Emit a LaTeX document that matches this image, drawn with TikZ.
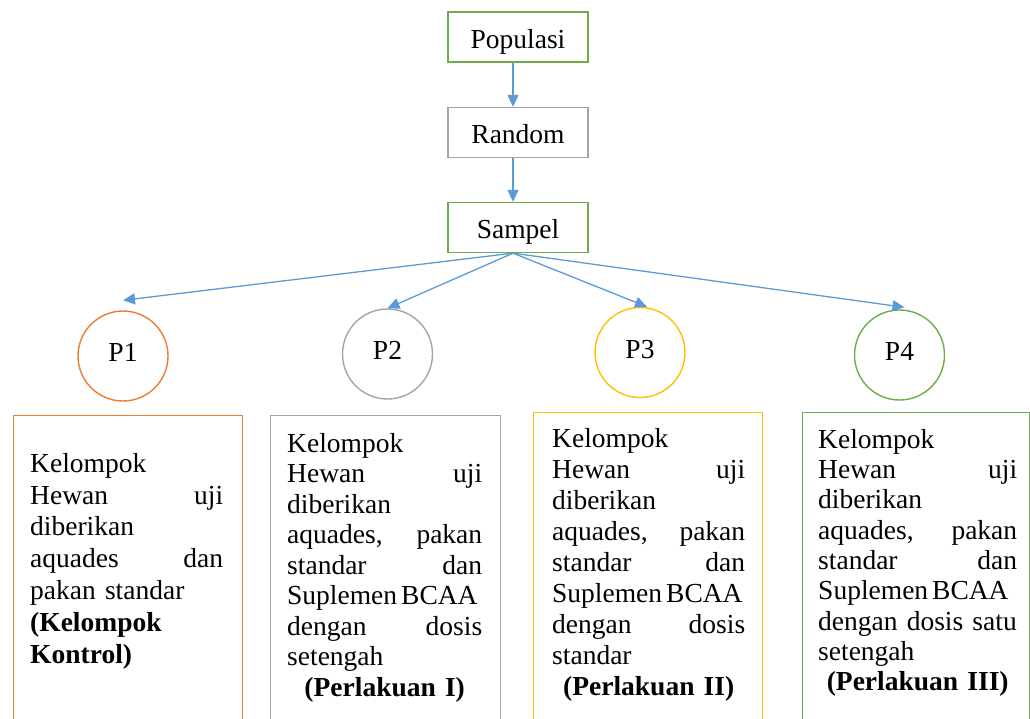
\documentclass[tikz,border=0pt]{standalone}
\usepackage{fontspec}
\setmainfont{Liberation Serif}
\usetikzlibrary{arrows.meta,calc}
\definecolor{cgreen}{HTML}{70AD47}
\definecolor{cgray}{HTML}{A5A5A5}
\definecolor{corange}{HTML}{ED7D31}
\definecolor{cyellow}{HTML}{FFC000}
\definecolor{cblue}{HTML}{5B9BD5}
\newcommand{\supl}{\mbox{Suplemen\hspace{4pt}BCAA}}
\begin{document}
\begin{tikzpicture}[x=1pt,y=-1pt,
  txt/.style={font=\fontsize{27.5}{30.5}\selectfont},
  topbox/.style={draw, line width=1.3pt, minimum width=140pt, minimum height=50pt, inner sep=0pt, text height=24pt, text depth=2pt, txt},
  pcirc/.style={draw, circle, line width=1.4pt, minimum size=90pt, inner sep=0pt, text height=15pt, text depth=4pt, txt},
  bigbox/.style={draw, line width=1.4pt, minimum height=330pt, anchor=north west, inner sep=0pt},
  btext/.style={anchor=north west, inner sep=0pt, align=left, txt},
  arr/.style={draw=cblue, line width=1.3pt, -{Triangle[length=12pt,width=11pt]}}
]
\useasboundingbox (0,0) rectangle (1030,718);
\clip (0,0) rectangle (1030,718);

% top boxes
\node[topbox, draw=cgreen] (pop) at (518,37) {Populasi};
\node[topbox, draw=cgray]  (ran) at (518,132.5) {Random};
\node[topbox, draw=cgreen] (sam) at (518,227.5) {Sampel};
\coordinate (ax) at (513,0);

% circles
\node[pcirc, draw=corange] (p1) at (123,356) {P1};
\node[pcirc, draw=cgray]   (p2) at (387.5,354) {P2};
\node[pcirc, draw=cyellow] (p3) at (640,352.5) {P3};
\node[pcirc, draw=cgreen]  (p4) at (899.5,355) {P4};

% arrows
\draw[arr] (pop.south -| ax) -- (ran.north -| ax);
\draw[arr] (ran.south -| ax) -- (sam.north -| ax);
\coordinate (s0) at (sam.south -| ax);
\draw[arr] (s0) -- ($(p1.north)+(0,-10)$);
\draw[arr] (s0) -- (p2.north);
\draw[arr] (s0) -- ($(p3.north)+(7,0)$);
\draw[arr] (s0) -- ($(p4.north)+(5,-2)$);

% bottom boxes
\node[bigbox, draw=corange, minimum width=229pt] (b1) at (13,415) {};
\node[bigbox, draw=cgray,   minimum width=230pt] (b2) at (270,415) {};
\node[bigbox, draw=cyellow, minimum width=229pt] (b3) at (533,412) {};
\node[bigbox, draw=cgreen,  minimum width=227pt] (b4) at (802,412) {};

\node[btext, text width=193pt, font=\fontsize{27.5}{31.8}\selectfont] (t1) at (30,453) {Kelompok\\
Hewan\hfill uji\\
diberikan\\
aquades\hfill dan\\
pakan standar\\
\textbf{(Kelompok}\\
\textbf{Kontrol)}};

\node[btext, text width=195pt] (t2) at (287,433) {Kelompok\\
Hewan\hfill uji\\
diberikan\\
aquades,\hfill pakan\\
standar\hfill dan\\
\supl\\
dengan\hfill dosis\\
setengah\\
\makebox[\linewidth]{\bfseries (Perlakuan I)}};

\node[btext, text width=193pt, font=\fontsize{27.5}{31}\selectfont] (t3) at (552,428) {Kelompok\\
Hewan\hfill uji\\
diberikan\\
aquades,\hfill pakan\\
standar\hfill dan\\
\supl\\
dengan\hfill dosis\\
standar\\
\makebox[\linewidth]{\bfseries (Perlakuan II)}};

\node[btext, text width=199pt, font=\fontsize{27.5}{30.3}\selectfont] (t4) at (818,429) {Kelompok\\
Hewan\hfill uji\\
diberikan\\
aquades,\hfill pakan\\
standar\hfill dan\\
\supl\\
dengan dosis satu\\
setengah\\
\makebox[\linewidth]{\bfseries (Perlakuan III)}};
\end{tikzpicture}
\end{document}
